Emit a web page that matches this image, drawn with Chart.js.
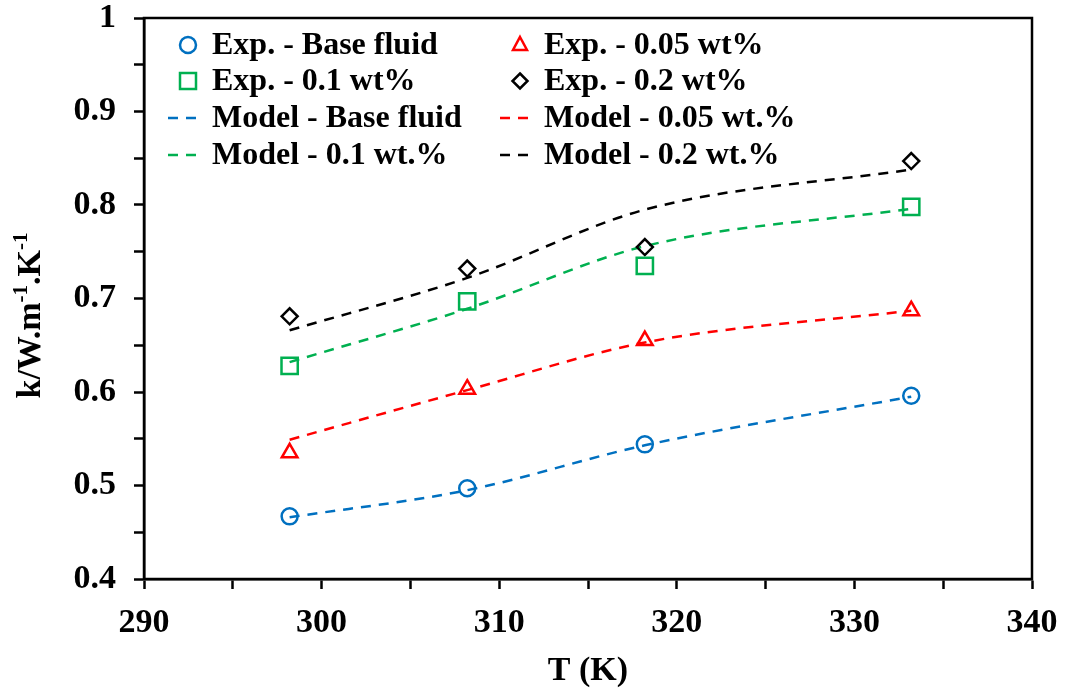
<!DOCTYPE html>
<html>
<head>
<meta charset="utf-8">
<script src="https://cdn.jsdelivr.net/npm/chart.js@4/dist/chart.umd.min.js"></script>
<style>
  html, body { margin: 0; padding: 0; background: #fff; }
  #wrap { width: 1065px; height: 696px; }
</style>
</head>
<body>
<div id="wrap"><canvas id="chart" width="1065" height="696"></canvas></div>
<script>
const temps = [298.2, 308.2, 318.2, 333.2];

const expBase = [0.467, 0.497, 0.544, 0.596];
const exp005 = [0.535, 0.603, 0.655, 0.687];
const exp01 = [0.628, 0.697, 0.735, 0.798];
const exp02 = [0.681, 0.732, 0.755, 0.847];

const modelBase = [0.466, 0.495, 0.543, 0.595];
const model005 = [0.549, 0.602, 0.653, 0.687];
const model01 = [0.632, 0.689, 0.756, 0.796];
const model02 = [0.666, 0.722, 0.795, 0.838];

const xTicks = [290, 300, 310, 320, 330, 340];
const yTicks = [0.4, 0.5, 0.6, 0.7, 0.8, 0.9, 1];

const BLUE = "#0070C0", RED = "#FF0000", GREEN = "#00B050", BLACK = "#000000";
const FONT = "'Liberation Serif', 'Times New Roman', serif";

const toPoints = (vals) => vals.map((v, i) => ({ x: temps[i], y: v }));

let expSet = (label, vals, color, style, radius) => ({
  label: label,
  data: toPoints(vals),
  showLine: false,
  borderColor: color,
  backgroundColor: "rgba(0,0,0,0)",
  pointStyle: style,
  pointRadius: radius,
  pointBorderWidth: 2.5,
  order: 0,
});

let modelSet = (label, vals, color) => ({
  label: label,
  data: toPoints(vals),
  showLine: true,
  borderColor: color,
  borderWidth: 2.5,
  borderDash: [10, 8],
  pointRadius: 0,
  cubicInterpolationMode: "monotone",
  fill: false,
  order: 1,
});

const datasets = [
  expSet("Exp. - Base fluid", expBase, BLUE, "circle", 8),
  expSet("Exp. - 0.05 wt%", exp005, RED, "triangle", 9),
  expSet("Exp. - 0.1 wt%", exp01, GREEN, "rect", 11.5),
  expSet("Exp. - 0.2 wt%", exp02, BLACK, "rectRot", 8),
  modelSet("Model - Base fluid", modelBase, BLUE),
  modelSet("Model - 0.05 wt.%", model005, RED),
  modelSet("Model - 0.1 wt.%", model01, GREEN),
  modelSet("Model - 0.2 wt.%", model02, BLACK),
];

// little marker drawer for the legend
function drawMarker(ctx, ds, x, y) {
  ctx.save();
  ctx.strokeStyle = ds.borderColor;
  ctx.lineWidth = 2.5;
  ctx.beginPath();
  if (ds.showLine) {
    ctx.setLineDash([10, 8]);
    ctx.moveTo(x - 20, y);
    ctx.lineTo(x + 12, y);
  } else if (ds.pointStyle === "circle") {
    ctx.arc(x, y, 8, 0, Math.PI * 2);
  } else if (ds.pointStyle === "triangle") {
    ctx.moveTo(x, y - 8);
    ctx.lineTo(x + 7, y + 5);
    ctx.lineTo(x - 7, y + 5);
    ctx.closePath();
  } else if (ds.pointStyle === "rect") {
    ctx.rect(x - 8, y - 8, 16, 16);
  } else {
    ctx.moveTo(x, y - 7.5);
    ctx.lineTo(x + 7.5, y);
    ctx.lineTo(x, y + 7.5);
    ctx.lineTo(x - 7.5, y);
    ctx.closePath();
  }
  ctx.stroke();
  ctx.restore();
}

// y title with real superscripts
function drawYTitle(ctx, area) {
  const parts = [["k/W.m", false], ["-1", true], [".K", false], ["-1", true]];
  const big = "bold 34px " + FONT;
  const small = "bold 21px " + FONT;
  ctx.save();
  let total = 0;
  parts.forEach(([t, sup]) => {
    ctx.font = sup ? small : big;
    total += ctx.measureText(t).width;
  });
  ctx.translate(40, (area.top + area.bottom) / 2 + 17);
  ctx.rotate(-Math.PI / 2);
  ctx.fillStyle = BLACK;
  ctx.textBaseline = "alphabetic";
  let x = -total / 2;
  parts.forEach(([t, sup]) => {
    ctx.font = sup ? small : big;
    ctx.fillText(t, x, sup ? -13 : 0);
    x += ctx.measureText(t).width;
  });
  ctx.restore();
}

const legendPlugin = {
  id: "boxLegend",
  afterDraw(chart) {
    const ctx = chart.ctx;
    const area = chart.chartArea;
    // frame round the plot
    ctx.save();
    ctx.strokeStyle = BLACK;
    ctx.lineWidth = 2.5;
    ctx.strokeRect(area.left, area.top, area.right - area.left, area.bottom - area.top);
    ctx.restore();

    drawYTitle(ctx, area);

    const colX = [area.left + 44, area.left + 376];
    const rowY = [area.top + 27, area.top + 63, area.top + 100, area.top + 137];
    chart.data.datasets.forEach((ds, i) => {
      const col = i % 2;
      const row = Math.floor(i / 2);
      drawMarker(ctx, ds, colX[col], rowY[row]);
      ctx.save();
      ctx.fillStyle = BLACK;
      ctx.font = "bold 32px " + FONT;
      ctx.textBaseline = "middle";
      ctx.textAlign = "left";
      ctx.fillText(ds.label, colX[col] + 24, rowY[row] + 1);
      ctx.restore();
    });
  },
};

new Chart(document.getElementById("chart"), {
  type: "scatter",
  data: { datasets: datasets },
  options: {
    responsive: false,
    animation: false,
    layout: { padding: { top: 18, right: 33, left: 0, bottom: 0 } },
    plugins: {
      legend: { display: false },
      tooltip: { enabled: false },
    },
    scales: {
      x: {
        type: "linear",
        min: 290,
        max: 340,
        afterFit: (scale) => {
          scale.height = 117;
          scale.paddingLeft = 0;
          scale.paddingRight = 0;
        },
        ticks: {
          stepSize: 5,
          color: BLACK,
          padding: 14,
          maxRotation: 0,
          autoSkip: false,
          font: { family: FONT, size: 34, weight: "bold" },
          callback: (v) => (xTicks.includes(v) ? String(v) : ""),
        },
        grid: { drawOnChartArea: false, tickLength: 10, tickWidth: 2.5, tickColor: BLACK },
        border: { color: BLACK, width: 2.5 },
        title: {
          display: true,
          text: "T (K)",
          color: BLACK,
          padding: { top: 0, bottom: 4 },
          font: { family: FONT, size: 34, weight: "bold" },
        },
      },
      y: {
        min: 0.4,
        max: 1,
        afterFit: (scale) => {
          scale.width = 144;
          scale.paddingTop = 0;
          scale.paddingBottom = 0;
        },
        ticks: {
          stepSize: 0.05,
          color: BLACK,
          padding: 18,
          autoSkip: false,
          font: { family: FONT, size: 34, weight: "bold" },
          callback: (v) => {
            const r = Math.round(v * 100) / 100;
            return yTicks.some((t) => Math.abs(t - r) < 1e-6) ? String(Math.round(r * 10) / 10) : "";
          },
        },
        grid: { drawOnChartArea: false, tickLength: 10, tickWidth: 2.5, tickColor: BLACK },
        border: { color: BLACK, width: 2.5 },
      },
    },
  },
  plugins: [legendPlugin],
});
</script>
</body>
</html>
